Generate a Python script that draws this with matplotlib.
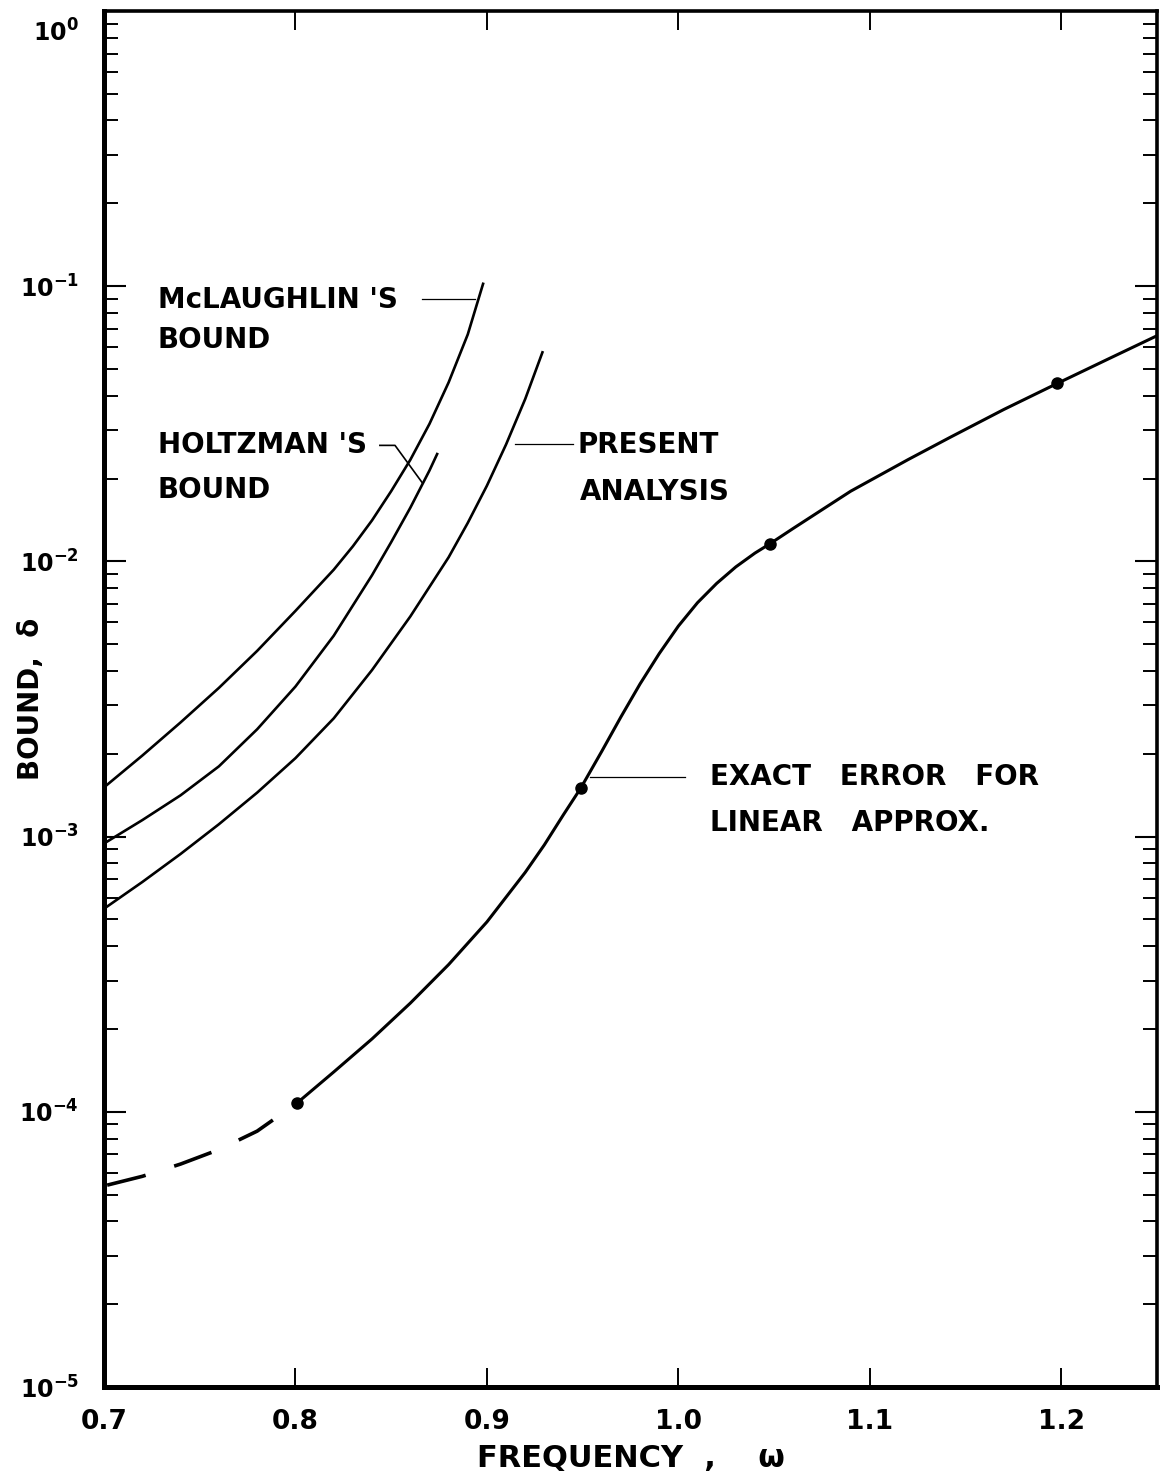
import numpy as np
import matplotlib
matplotlib.use('Agg')
import matplotlib.pyplot as plt
from matplotlib.ticker import FixedLocator, LogLocator, NullFormatter
from matplotlib.transforms import ScaledTranslation

plt.rcParams['font.family'] = ['DejaVu Sans']
plt.rcParams['font.weight'] = 'bold'
plt.rcParams['mathtext.fontset'] = 'dejavusans'
plt.rcParams['mathtext.default'] = 'bf'

# bounds for each method (frequency w, bound delta)
mclaughlin_w = [0.70, 0.72, 0.74, 0.76, 0.78, 0.80, 0.82, 0.83, 0.84, 0.85,
                0.86, 0.87, 0.88, 0.89, 0.898]
mclaughlin_d = [1.51e-3, 1.97e-3, 2.60e-3, 3.47e-3, 4.73e-3, 6.61e-3, 9.33e-3, 1.135e-2, 1.41e-2, 1.80e-2,
                2.34e-2, 3.16e-2, 4.47e-2, 6.68e-2, 1.02e-1]

holtzman_w = [0.70, 0.72, 0.74, 0.76, 0.78, 0.80, 0.82, 0.84, 0.85, 0.86, 0.87, 0.874]
holtzman_d = [9.44e-4, 1.148e-3, 1.413e-3, 1.80e-3, 2.455e-3, 3.51e-3, 5.37e-3, 8.91e-3,
              1.175e-2, 1.567e-2, 2.14e-2, 2.455e-2]

present_w = [0.70, 0.72, 0.74, 0.76, 0.78, 0.80, 0.82, 0.84, 0.86, 0.88,
             0.89, 0.90, 0.91, 0.92, 0.929]
present_d = [5.47e-4, 6.84e-4, 8.65e-4, 1.109e-3, 1.445e-3, 1.928e-3, 2.69e-3, 4.03e-3, 6.31e-3, 1.035e-2,
             1.38e-2, 1.884e-2, 2.66e-2, 3.89e-2, 5.75e-2]

# exact error of the linear approximation
exact_w = [0.801, 0.82, 0.84, 0.86, 0.88, 0.90, 0.92, 0.93, 0.94, 0.949,
           0.96, 0.97, 0.98, 0.99, 1.00, 1.01, 1.02, 1.03, 1.04, 1.048,
           1.06, 1.075, 1.09, 1.12, 1.142, 1.17, 1.198, 1.225, 1.25]
exact_d = [1.079e-4, 1.396e-4, 1.841e-4, 2.483e-4, 3.428e-4, 4.898e-4, 7.413e-4, 9.333e-4, 1.202e-3, 1.500e-3,
           2.042e-3, 2.723e-3, 3.589e-3, 4.624e-3, 5.821e-3, 7.079e-3, 8.318e-3, 9.550e-3, 1.072e-2, 1.161e-2,
           1.318e-2, 1.54e-2, 1.799e-2, 2.344e-2, 2.825e-2, 3.565e-2, 4.436e-2, 5.458e-2, 6.607e-2]
extrap_w = [0.70, 0.72, 0.74, 0.76, 0.78, 0.801]
extrap_d = [5.38e-5, 5.83e-5, 6.46e-5, 7.29e-5, 8.51e-5, 1.079e-4]
computed_w = [0.801, 0.949, 1.048, 1.198]
computed_d = [1.079e-4, 1.500e-3, 1.161e-2, 4.436e-2]

xticks = [0.7, 0.8, 0.9, 1.0, 1.1, 1.2]
xlabels = ['0.7', '0.8', '0.9', '1.0', '1.1', '1.2']
yticks = [1e-5, 1e-4, 1e-3, 1e-2, 1e-1, 1e0]
ylabels = [r'$10^{-5}$', r'$10^{-4}$', r'$10^{-3}$', r'$10^{-2}$', r'$10^{-1}$', r'$10^{0}$']

fig = plt.figure(figsize=(11.62, 14.83), dpi=100)
ax = fig.add_axes([0.0895, 0.0647, 0.9062, 0.9279])

lw = 1.9
ax.plot(mclaughlin_w, mclaughlin_d, color='black', linewidth=lw)
ax.plot(holtzman_w, holtzman_d, color='black', linewidth=lw)
ax.plot(present_w, present_d, color='black', linewidth=lw)
ax.plot(exact_w, exact_d, color='black', linewidth=lw + 0.3)
# dashed part drawn from the first computed point back to the axis,
# starting in a gap so the dot stands free
ax.plot(extrap_w[::-1], extrap_d[::-1], color='black', linewidth=2.6,
        linestyle=(11, (11, 8.3)))
ax.plot(computed_w, computed_d, 'o', color='black', markersize=8)

ax.set_yscale('log')
ax.set_xlim(0.7, 1.25)
ax.set_ylim(1e-5, 1e0)

ax.xaxis.set_major_locator(FixedLocator(xticks))
ax.set_xticklabels(xlabels)
ax.yaxis.set_minor_locator(LogLocator(base=10, subs=np.arange(2, 10), numticks=20))
ax.yaxis.set_minor_formatter(NullFormatter())
ax.set_yticks(yticks)
ax.set_yticklabels(ylabels)

ax.tick_params(axis='x', which='major', direction='in', length=14, width=1.4,
               top=True, labelsize=19, pad=16)
ax.tick_params(axis='y', which='major', direction='in', length=16, width=1.5,
               right=True, labelsize=17, pad=18)
ax.tick_params(axis='y', which='minor', direction='in', length=10, width=1.4, right=True)

# the top label sits a little below its tick
top_label = ax.yaxis.get_major_ticks()[-1].label1
top_label.set_transform(top_label.get_transform() + ScaledTranslation(0, -14 / 72, fig.dpi_scale_trans))

for side in ['left', 'bottom']:
    ax.spines[side].set_linewidth(3.6)
for side in ['top', 'right']:
    ax.spines[side].set_linewidth(2.6)

ax.set_xlabel('FREQUENCY  ,    ω', fontsize=22, fontweight='bold', labelpad=6)
ax.set_ylabel('BOUND,  δ', fontsize=20, fontweight='bold')
ax.yaxis.set_label_coords(-0.056, 0.5)

# curve labels with leader lines
fs = 20
ax.text(0.7282, 0.0889, "McLAUGHLIN 'S", fontsize=fs, va='center')
ax.text(0.7282, 0.0636, 'BOUND', fontsize=fs, va='center')
ax.plot([0.866, 0.8937], [0.0898, 0.0898], color='black', linewidth=0.9)

ax.text(0.7282, 0.0264, "HOLTZMAN 'S", fontsize=fs, va='center')
ax.text(0.7282, 0.0181, 'BOUND', fontsize=fs, va='center')
ax.plot([0.8441, 0.8520, 0.8661], [0.0264, 0.0264, 0.01937], color='black', linewidth=1.2)

ax.plot([0.9146, 0.9449], [0.0266, 0.0266], color='black', linewidth=0.9)
ax.text(0.9475, 0.0264, 'PRESENT', fontsize=fs, va='center')
ax.text(0.9486, 0.0178, 'ANALYSIS', fontsize=fs, va='center')

ax.plot([0.9538, 1.0034], [1.64e-3, 1.64e-3], color='black', linewidth=0.9)
ax.text(1.0164, 1.64e-3, 'EXACT   ERROR   FOR', fontsize=fs, va='center')
ax.text(1.0164, 1.12e-3, 'LINEAR   APPROX.', fontsize=fs, va='center')

plt.savefig('out.png', dpi=100)
